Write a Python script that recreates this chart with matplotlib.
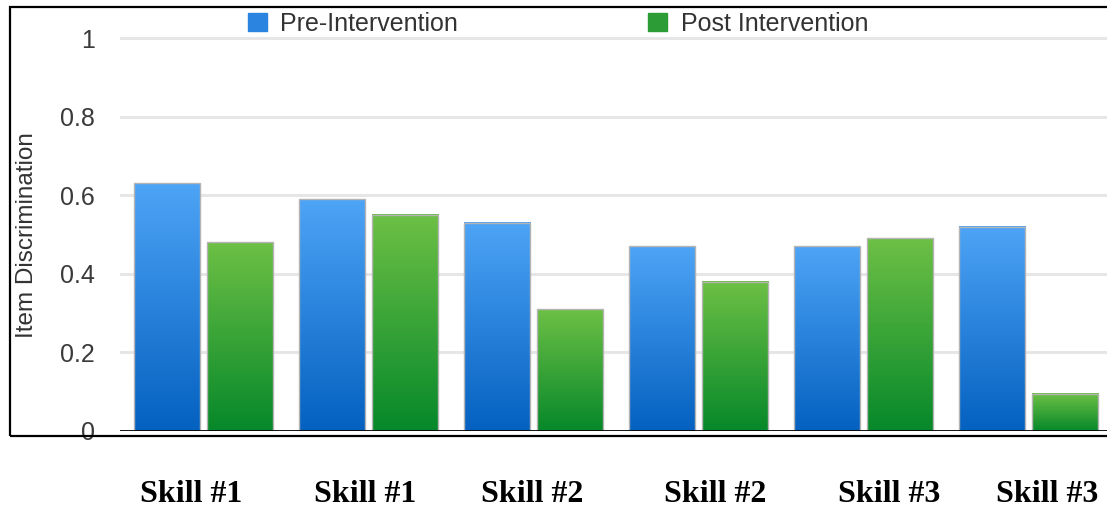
import numpy as np
import matplotlib
matplotlib.use("Agg")
import matplotlib.pyplot as plt
from matplotlib.patches import Rectangle, Patch
from matplotlib.colors import LinearSegmentedColormap

# data
categories = ["Skill #1", "Skill #1", "Skill #2", "Skill #2", "Skill #3", "Skill #3"]
pre_values = [0.63, 0.59, 0.53, 0.47, 0.47, 0.52]
post_values = [0.48, 0.55, 0.31, 0.38, 0.49, 0.095]
series_names = ["Pre-Intervention", "Post Intervention"]
yticks = [0, 0.2, 0.4, 0.6, 0.8, 1]

# label positions under the box (pixels, the labels are not centred on the groups)
label_px = [191, 365, 532, 715, 889, 1047]

W, H = 1107, 508
fig = plt.figure(figsize=(W / 100, H / 100), dpi=100)

# outer box
fig.patches.append(Rectangle((10 / W, 1 - 436 / H), 1.2, (436 - 7) / H, transform=fig.transFigure,
                             fill=False, edgecolor="black", linewidth=1.6))

ax = fig.add_axes([120 / W, 1 - 431 / H, 992 / W, 412.65 / H])
ax.set_facecolor("none")

blue_cmap = LinearSegmentedColormap.from_list("b", ["#0461c0", "#4ea4f6"])
green_cmap = LinearSegmentedColormap.from_list("g", ["#06882a", "#6dc045"])
grad = np.linspace(0, 1, 256).reshape(-1, 1)

x = np.arange(len(categories))
width = 0.4
offset = 0.221

for vals, off, cmap in [(pre_values, -offset, blue_cmap), (post_values, offset, green_cmap)]:
    bars = ax.bar(x + off, vals, width, facecolor="none", edgecolor="#b4b4b4", linewidth=1, zorder=3)
    for b in bars:
        x0, w, h = b.get_x(), b.get_width(), b.get_height()
        ax.imshow(grad, extent=(x0, x0 + w, 0, h), origin="lower", aspect="auto",
                  cmap=cmap, zorder=2, interpolation="bilinear")

ax.set_xlim(-0.506, 5.506)
ax.set_ylim(0, 1.05)
ax.set_yticks(yticks)
ax.set_yticklabels(["0", "0.2", "0.4", "0.6", "0.8", "1"])
ax.set_xticks([])
ax.tick_params(axis="y", length=0, pad=18, labelsize=18, labelcolor="#3a3a3a")
for lab in ax.get_yticklabels():
    lab.set_family("Liberation Sans")
ax.grid(axis="y", color="#e6e6e6", linewidth=2.2, zorder=0)
ax.set_axisbelow(True)
for s in ax.spines.values():
    s.set_visible(False)
ax.axhline(0, color="black", linewidth=2, zorder=4)

fig.text(27 / W, 1 - 235 / H, "Item Discrimination", rotation=90, ha="center", va="center",
         fontsize=17.5, family="Liberation Sans", color="#333333")

for lbl, px in zip(categories, label_px):
    fig.text(px / W, 1 - 495 / H, lbl, ha="center", va="center", fontsize=23,
             family="Liberation Serif", fontweight="bold")

handles = [Patch(facecolor="#2a84e0", edgecolor="#2a84e0"), Patch(facecolor="#2c9d36", edgecolor="#2c9d36")]
fig.legend(handles, series_names, loc="center", bbox_to_anchor=(558 / W, 1 - 24 / H), ncol=2,
           frameon=False, prop={"family": "Liberation Sans", "size": 18}, handlelength=0.75,
           handleheight=0.75, handletextpad=0.55, columnspacing=7.6, labelcolor="#333333")

fig.savefig("out.png", dpi=100)
